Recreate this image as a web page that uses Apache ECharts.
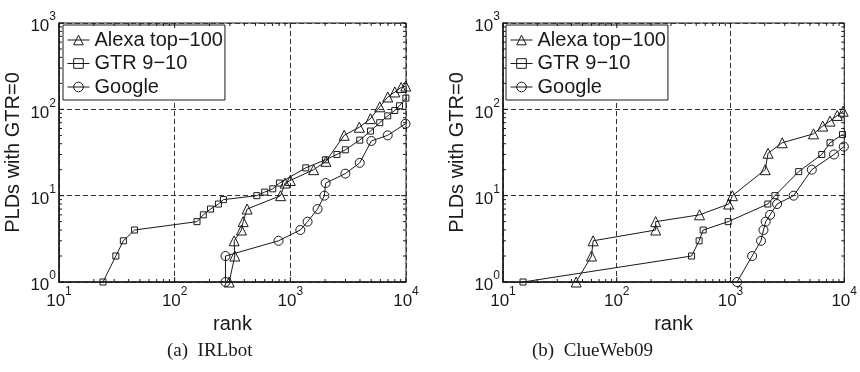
<!DOCTYPE html>
<html>
<head>
<meta charset="utf-8">
<script src="https://cdn.jsdelivr.net/npm/echarts@6/dist/echarts.min.js"></script>
<style>
  html, body { margin: 0; padding: 0; background: #fff; }
  #chart { width: 860px; height: 372px; }
</style>
</head>
<body>
<div id="chart"></div>
<script>
// [rank, PLDs with GTR=0]
const irlbotAlexa = [[296, 1], [331, 2], [327, 3], [378, 4], [391, 5], [423, 7], [824, 10], [900, 14], [1000, 15], [1590, 20], [2030, 25], [2920, 50], [3950, 62], [4930, 78], [5930, 107], [6950, 139], [8000, 159], [9080, 179], [9960, 186]];
const irlbotGtr = [[24, 1], [31, 2], [36, 3], [45, 4], [156, 5], [177, 6], [204, 7], [239, 8], [264, 9], [513, 10], [600, 11], [705, 12], [805, 14], [1360, 21], [2010, 26], [2530, 30], [2990, 34], [3980, 44], [4930, 56], [5930, 70], [6950, 84], [8000, 97], [8790, 110], [9980, 135]];
const irlbotGoogle = [[275, 1], [275, 2], [790, 3], [1220, 4], [1410, 5], [1720, 7], [1970, 10], [2020, 14], [2990, 18], [3980, 24], [5020, 43], [6950, 50], [9900, 68]];

const clueAlexa = [[44, 1], [60, 2], [62, 3], [220, 4], [220, 5], [535, 6], [965, 8], [1040, 10], [2020, 20], [2140, 31], [2850, 41], [5370, 52], [6470, 64], [7500, 73], [8690, 85], [9790, 95]];
const clueGtr = [[15, 1], [455, 2], [530, 3], [575, 4], [955, 5], [2130, 8], [2460, 10], [3980, 19], [6350, 30], [7500, 41], [9660, 51]];
const clueGoogle = [[1143, 1], [1550, 2], [1855, 3], [1950, 4], [2040, 5], [2230, 6], [2570, 8], [3590, 10], [5190, 20], [8130, 30], [9930, 37]];

const seriesNames = ["Alexa top\u2212100", "GTR 9\u221210", "Google"];
const captions = ["(a)  IRLbot", "(b)  ClueWeb09"];
const xRange = [10, 10000];
const yRange = [1, 1000];

const INK = "#1a1a1a";
const SANS = "Liberation Sans, Arial, sans-serif";

const panels = [
  { left: 59, width: 347, legendLeft: 63, captionLeft: 167, data: [irlbotAlexa, irlbotGtr, irlbotGoogle] },
  { left: 503, width: 345, legendLeft: 506, captionLeft: 532, data: [clueAlexa, clueGtr, clueGoogle] },
];
const symbols = [
  { symbol: "triangle", size: 10 },
  { symbol: "rect", size: 6 },
  { symbol: "circle", size: 9 },
];

const powerLabel = (v) => `{b|10}{s|${Math.round(Math.log10(v))}}`;
const powerRich = {
  b: { fontSize: 17, fontFamily: SANS, color: INK, verticalAlign: "bottom", lineHeight: 24 },
  s: { fontSize: 12, fontFamily: SANS, color: INK, verticalAlign: "top", lineHeight: 24 },
};

// minor/major tick positions (2..9 times each decade) for the MATLAB-style frame
function decadeTicks(lo, hi) {
  const out = [];
  for (let d = lo; d < hi; d *= 10) {
    for (let m = 1; m < 10; m++) out.push([m * d, m === 1 ? 1 : 0]);
  }
  out.push([hi, 1]);
  return out;
}

function tickSeries(gi, horizontal) {
  const ticks = horizontal ? decadeTicks(xRange[0], xRange[1]) : decadeTicks(yRange[0], yRange[1]);
  return {
    type: "custom",
    xAxisIndex: gi,
    yAxisIndex: gi,
    silent: true,
    clip: false,
    z: 5,
    data: ticks.map(([v, major]) => (horizontal ? [v, yRange[0], major] : [xRange[0], v, major])),
    renderItem: (params, api) => {
      const len = api.value(2) ? 5 : 3;
      const style = { stroke: INK, lineWidth: 1 };
      if (horizontal) {
        const v = api.value(0);
        const a = api.coord([v, yRange[0]]);
        const b = api.coord([v, yRange[1]]);
        return {
          type: "group",
          children: [
            { type: "line", shape: { x1: a[0], y1: a[1], x2: a[0], y2: a[1] - len }, style },
            { type: "line", shape: { x1: b[0], y1: b[1], x2: b[0], y2: b[1] + len }, style },
          ],
        };
      }
      const v = api.value(1);
      const a = api.coord([xRange[0], v]);
      const b = api.coord([xRange[1], v]);
      return {
        type: "group",
        children: [
          { type: "line", shape: { x1: a[0], y1: a[1], x2: a[0] + len, y2: a[1] }, style },
          { type: "line", shape: { x1: b[0], y1: b[1], x2: b[0] - len, y2: b[1] }, style },
        ],
      };
    },
  };
}

const chart = echarts.init(document.getElementById("chart"), null, { renderer: "canvas" });

const dashed = { show: true, lineStyle: { color: "#333", width: 1, type: [5, 3] } };

chart.setOption({
  animation: false,
  backgroundColor: "#fff",
  title: panels.map((p, i) => ({
    text: captions[i],
    left: p.captionLeft,
    top: 342,
    padding: 0,
    textStyle: { fontFamily: "Liberation Serif, Times New Roman, serif", fontSize: 19, fontWeight: "normal", color: INK },
  })),
  legend: panels.map((p) => ({
    data: seriesNames,
    orient: "vertical",
    left: p.legendLeft,
    top: 25,
    padding: [5, 2, 3, 4],
    itemGap: 3.5,
    itemWidth: 22,
    itemHeight: 12,
    backgroundColor: "#fff",
    borderColor: INK,
    borderWidth: 1,
    borderRadius: 0,
    selectedMode: false,
    lineStyle: { width: 1, color: INK },
    itemStyle: { borderWidth: 1, borderColor: INK, color: "rgba(255,255,255,0)" },
    textStyle: { fontFamily: SANS, fontSize: 20, lineHeight: 20, color: INK },
  })),
  grid: panels.map((p) => ({
    left: p.left,
    top: 23,
    width: p.width,
    height: 259,
    show: true,
    borderColor: INK,
    borderWidth: 1,
    backgroundColor: "transparent",
  })),
  xAxis: panels.map((p, i) => ({
    type: "log",
    logBase: 10,
    gridIndex: i,
    min: xRange[0],
    max: xRange[1],
    splitNumber: 3,
    name: "rank",
    nameLocation: "middle",
    nameGap: 30,
    nameTextStyle: { fontFamily: SANS, fontSize: 20, color: INK },
    axisLine: { lineStyle: { color: INK, width: 1.5 } },
    axisTick: { show: false },
    axisLabel: { margin: 4, formatter: powerLabel, rich: powerRich },
    splitLine: dashed,
  })),
  yAxis: panels.map((p, i) => ({
    type: "log",
    logBase: 10,
    gridIndex: i,
    min: yRange[0],
    max: yRange[1],
    splitNumber: 3,
    name: "PLDs with GTR=0",
    nameLocation: "middle",
    nameGap: 36,
    nameTextStyle: { fontFamily: SANS, fontSize: 20, color: INK },
    axisLine: { lineStyle: { color: INK, width: 1.5 } },
    axisTick: { show: false },
    axisLabel: { margin: 3, formatter: powerLabel, rich: powerRich },
    splitLine: dashed,
  })),
  series: [
    ...panels.flatMap((p, gi) =>
      p.data.map((rows, si) => ({
        type: "line",
        name: seriesNames[si],
        xAxisIndex: gi,
        yAxisIndex: gi,
        data: rows,
        symbol: symbols[si].symbol,
        symbolSize: symbols[si].size,
        showSymbol: true,
        z: 3,
        lineStyle: { color: INK, width: 1 },
        itemStyle: { color: "rgba(255,255,255,0)", borderColor: INK, borderWidth: 1 },
        emphasis: { disabled: true },
      })),
    ),
    tickSeries(0, true),
    tickSeries(0, false),
    tickSeries(1, true),
    tickSeries(1, false),
  ],
});
</script>
</body>
</html>
